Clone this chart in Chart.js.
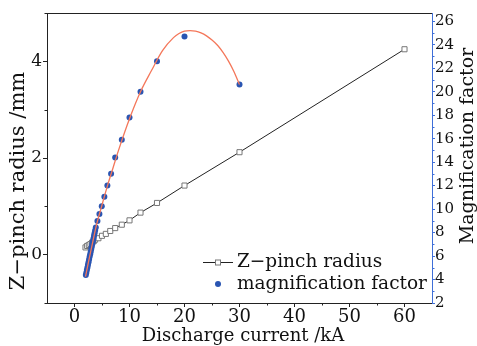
<!DOCTYPE html>
<html><head><meta charset="utf-8">
<script src="https://cdn.jsdelivr.net/npm/chart.js@4"></script>
<style>html,body{margin:0;padding:0;background:#fff;overflow:hidden}</style>
</head><body>
<canvas id="c" width="477" height="346"></canvas>
<script>
// ---- data ----
const radiusCurrent = [2.0, 2.3, 2.6, 2.9, 3.2, 3.5, 3.75, 4.35, 5.0, 5.7, 6.5, 7.4, 8.6, 10, 12, 15, 20, 30, 60];
const radiusValues  = [0.15, 0.18, 0.2, 0.22, 0.25, 0.28, 0.31, 0.34, 0.39, 0.43, 0.49, 0.55, 0.62, 0.71, 0.87, 1.07, 1.43, 2.12, 4.25];

const magCurrent = [2.06, 2.15, 2.25, 2.35, 2.45, 2.55, 2.65, 2.75, 2.85, 2.95, 3.05, 3.15, 3.25, 3.35, 3.45, 3.55, 3.65, 3.75, 3.87, 4.17, 4.53, 4.96, 5.43, 5.98, 6.65, 7.4, 8.6, 10, 12, 15, 20, 30];
const magValues  = [4.38, 4.58, 4.81, 5.03, 5.25, 5.48, 5.7, 5.93, 6.15, 6.37, 6.6, 6.82, 7.05, 7.27, 7.5, 7.72, 7.94, 8.17, 8.44, 8.98, 9.57, 10.25, 11.05, 12.0, 13.0, 14.4, 15.9, 17.8, 20.0, 22.6, 24.7, 20.6];

const fitCurrent = [2.0, 2.5, 3, 3.5, 4, 5, 6, 7, 8, 10, 12, 14, 16, 18, 19, 20, 21, 22, 23, 24, 25, 26, 27, 28, 29, 30];
const fitValues  = [4.25, 5.4, 6.5, 7.6, 8.65, 10.35, 12.0, 13.5, 15.0, 17.7, 20.0, 21.8, 23.5, 24.6, 24.95, 25.15, 25.2, 25.15, 25.0, 24.75, 24.4, 23.95, 23.35, 22.6, 21.7, 20.6];

const xTicks = [0, 10, 20, 30, 40, 50, 60];
const xMinorTicks = [5, 15, 25, 35, 45, 55];
const yTicks = [0, 2, 4];
const yMinorTicks = [-1, 1, 3, 5];
const y2Ticks = [2, 4, 6, 8, 10, 12, 14, 16, 18, 20, 22, 24, 26];
const y2MinorTicks = [3, 5, 7, 9, 11, 13, 15, 17, 19, 21, 23, 25];

const seriesNames = ['Z\u2212pinch radius', 'magnification factor'];
const xTitle = 'Discharge current /kA';
const yTitle = 'Z\u2212pinch radius /mm';
const y2Title = 'Magnification factor';

// ---- styles ----
const FONT = 'DejaVu Serif';
const TXT = '#111';
const BLUE_AXIS = '#3f6fd8';
const DOT = '#2a55b2';
const FIT = '#f4775a';
const f = s => s + 'px "' + FONT + '"';

const toXY = (xs, ys) => xs.map((x, i) => ({x, y: ys[i]}));

const decor = {
  id: 'decor',
  afterDraw(chart) {
    const ctx = chart.ctx;
    const {x, y, y2} = chart.scales;
    const a = chart.chartArea;
    ctx.save();
    // top frame line
    ctx.strokeStyle = '#222'; ctx.lineWidth = 1;
    ctx.beginPath(); ctx.moveTo(a.left, a.top + 0.5); ctx.lineTo(a.right, a.top + 0.5); ctx.stroke();
    // minor ticks
    ctx.beginPath();
    xMinorTicks.forEach(v => { const p = Math.round(x.getPixelForValue(v)) + 0.5; ctx.moveTo(p, a.bottom); ctx.lineTo(p, a.bottom + 2.5); });
    yMinorTicks.forEach(v => { const p = Math.round(y.getPixelForValue(v)) + 0.5; ctx.moveTo(a.left, p); ctx.lineTo(a.left - 2.5, p); });
    ctx.stroke();
    ctx.strokeStyle = BLUE_AXIS;
    ctx.beginPath();
    y2MinorTicks.forEach(v => { const p = Math.round(y2.getPixelForValue(v)) + 0.5; ctx.moveTo(a.right, p); ctx.lineTo(a.right + 2.5, p); });
    ctx.stroke();
    ctx.restore();

    // axis titles
    ctx.save();
    ctx.fillStyle = TXT; ctx.textAlign = 'center'; ctx.textBaseline = 'middle';
    ctx.font = f(18);
    ctx.fillText(xTitle, 243, 336);
    ctx.save();
    ctx.font = f(21);
    ctx.translate(19, 181); ctx.rotate(-Math.PI / 2); ctx.fillText(yTitle, 0, 0);
    ctx.restore();
    ctx.save();
    ctx.font = f(19);
    ctx.translate(468, 146); ctx.rotate(-Math.PI / 2); ctx.fillText(y2Title, 0, 0);
    ctx.restore();
    ctx.restore();

    // legend
    ctx.save();
    ctx.font = f(18.5);
    ctx.fillStyle = TXT; ctx.textAlign = 'left'; ctx.textBaseline = 'middle';
    const lx = 203, ly1 = 262, ly2 = 284;
    ctx.strokeStyle = '#222'; ctx.lineWidth = 1;
    ctx.beginPath(); ctx.moveTo(lx, ly1 + 0.5); ctx.lineTo(lx + 30, ly1 + 0.5); ctx.stroke();
    ctx.fillStyle = '#fff'; ctx.strokeStyle = '#777';
    ctx.fillRect(lx + 12.5, ly1 - 2, 5, 5); ctx.strokeRect(lx + 12.5, ly1 - 2, 5, 5);
    ctx.fillStyle = DOT;
    ctx.beginPath(); ctx.arc(lx + 15, ly2, 3, 0, Math.PI * 2); ctx.fill();
    ctx.fillStyle = TXT;
    ctx.fillText(seriesNames[0], 237, ly1);
    ctx.fillText(seriesNames[1], 237, ly2);
    ctx.restore();
  }
};

new Chart(document.getElementById('c'), {
  type: 'scatter',
  data: {
    datasets: [
      {
        label: seriesNames[0], data: toXY(radiusCurrent, radiusValues), yAxisID: 'y',
        showLine: true, borderColor: '#222', borderWidth: 1,
        pointStyle: 'rect', pointRadius: 3.6, pointBackgroundColor: '#fff',
        pointBorderColor: '#777', pointBorderWidth: 1, order: 3
      },
      {
        label: seriesNames[1], data: toXY(magCurrent, magValues), yAxisID: 'y2',
        showLine: false, pointRadius: 3, pointBackgroundColor: DOT, pointBorderColor: DOT,
        pointBorderWidth: 0, order: 2
      },
      {
        label: 'fit', data: toXY(fitCurrent, fitValues), yAxisID: 'y2',
        showLine: true, borderColor: FIT, borderWidth: 1.3, pointRadius: 0,
        cubicInterpolationMode: 'monotone', order: 1
      }
    ]
  },
  options: {
    responsive: false, animation: false, devicePixelRatio: 1,
    layout: { padding: { top: 13, left: 0, right: 0, bottom: 0 } },
    plugins: { legend: { display: false }, tooltip: { enabled: false } },
    scales: {
      x: {
        type: 'linear', min: -5, max: 65,
        afterBuildTicks: s => { s.ticks = xTicks.map(v => ({value: v})); },
        afterFit: s => { s.height = 43; },
        grid: { drawOnChartArea: false, drawTicks: true, tickLength: 4, color: '#222' },
        border: { color: '#222', width: 1 },
        ticks: { color: TXT, font: { family: FONT, size: 18 }, padding: 0, maxRotation: 0, autoSkip: false },
        title: { display: false }
      },
      y: {
        type: 'linear', position: 'left', min: -1, max: 5,
        afterBuildTicks: s => { s.ticks = yTicks.map(v => ({value: v})); },
        afterFit: s => { s.width = 47; },
        grid: { drawOnChartArea: false, drawTicks: true, tickLength: 4, color: '#222' },
        border: { color: '#222', width: 1 },
        ticks: { color: TXT, font: { family: FONT, size: 17 }, padding: 1, autoSkip: false },
        title: { display: false }
      },
      y2: {
        type: 'linear', position: 'right', min: 2, max: 26.7,
        afterBuildTicks: s => { s.ticks = y2Ticks.map(v => ({value: v})); },
        afterFit: s => { s.width = 45; },
        grid: { drawOnChartArea: false, drawTicks: true, tickLength: 3, color: BLUE_AXIS },
        border: { color: BLUE_AXIS, width: 1 },
        ticks: { color: TXT, font: { family: FONT, size: 15 }, padding: 0, autoSkip: false },
        title: { display: false }
      }
    }
  },
  plugins: [decor]
});
</script>
</body></html>
